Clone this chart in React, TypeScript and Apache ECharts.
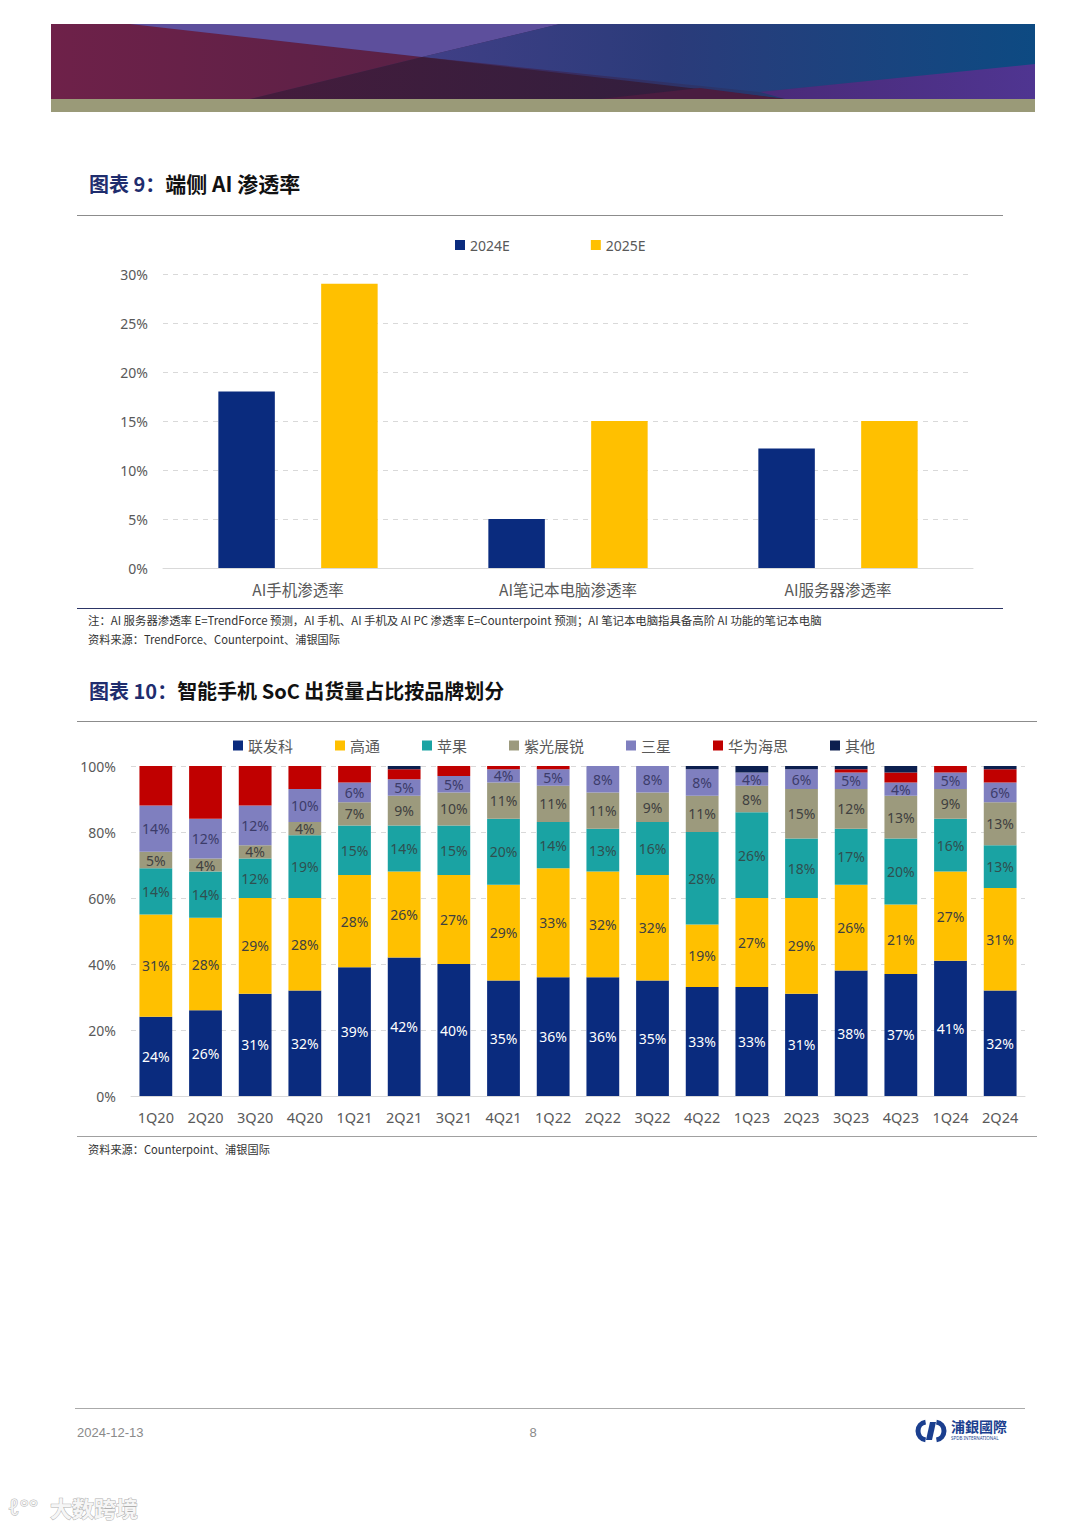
import React, { useEffect, useRef } from "react";
import * as echarts from "echarts";

// ---------- Chart 9 data ----------
const aiCategories = ["AI手机渗透率", "AI笔记本电脑渗透率", "AI服务器渗透率"];
const ai2024E = [18, 5, 12.2];
const ai2025E = [29, 15, 15];

// ---------- Chart 10 data ----------
const socQuarters = [
  "1Q20", "2Q20", "3Q20", "4Q20", "1Q21", "2Q21", "3Q21", "4Q21", "1Q22",
  "2Q22", "3Q22", "4Q22", "1Q23", "2Q23", "3Q23", "4Q23", "1Q24", "2Q24",
];
const mediatek = [24, 26, 31, 32, 39, 42, 40, 35, 36, 36, 35, 33, 33, 31, 38, 37, 41, 32];
const qualcomm = [31, 28, 29, 28, 28, 26, 27, 29, 33, 32, 32, 19, 27, 29, 26, 21, 27, 31];
const apple = [14, 14, 12, 19, 15, 14, 15, 20, 14, 13, 16, 28, 26, 18, 17, 20, 16, 13];
const unisoc = [5, 4, 4, 4, 7, 9, 10, 11, 11, 11, 9, 11, 8, 15, 12, 13, 9, 13];
const samsung = [14, 12, 12, 10, 6, 5, 5, 4, 5, 8, 8, 8, 4, 6, 5, 4, 5, 6];
const hisilicon = [12, 16, 12, 7, 5, 3, 3, 1, 1, 0, 0, 0, 0, 0, 1, 3, 2, 4];
const others = [0, 0, 0, 0, 0, 1, 0, 0, 0, 0, 0, 1, 2, 1, 1, 2, 0, 1];

const NAVY = "#0a2b7e";
const YELLOW = "#ffc000";
const TEAL = "#1aa3a3";
const OLIVE = "#9c9a7d";
const PURPLE = "#7f7fbf";
const RED = "#c00000";
const DARK = "#0c1f4f";

const CJK = "'Noto Sans CJK SC', 'Noto Sans', sans-serif";
const LAT = "'Noto Sans', 'Open Sans', sans-serif";

export default function App() {
  const ref = useRef<HTMLDivElement>(null);

  useEffect(() => {
    if (!ref.current) return;
    const chart = echarts.init(ref.current, undefined, { renderer: "svg" });

    const lbl = (color: string) => ({
      show: true,
      position: "inside" as const,
      formatter: "{c}%",
      color,
      fontSize: 14,
      fontFamily: LAT,
    });

    const socSeries = [
      { name: "联发科", data: mediatek, color: NAVY, label: lbl("#ffffff") },
      { name: "高通", data: qualcomm, color: YELLOW, label: lbl("#404040") },
      { name: "苹果", data: apple, color: TEAL, label: lbl("#2f5050") },
      { name: "紫光展锐", data: unisoc, color: OLIVE, label: lbl("#404040") },
      { name: "三星", data: samsung, color: PURPLE, label: lbl("#3c3c6a") },
      { name: "华为海思", data: hisilicon, color: RED, label: { show: false } },
      { name: "其他", data: others, color: DARK, label: { show: false } },
    ].map((s) => ({
      type: "bar",
      name: s.name,
      stack: "soc",
      xAxisIndex: 1,
      yAxisIndex: 1,
      barCategoryGap: "34%",
      data: s.data,
      itemStyle: { color: s.color },
      label: s.label,
    }));

    const line = (x1: number, y1: number, x2: number, y2: number, stroke: string, w = 1) => ({
      type: "line",
      shape: { x1, y1, x2, y2 },
      style: { stroke, lineWidth: w },
      silent: true,
    });

    const text = (x: number, y: number, t: string, font: string, fill: string, align = "left") => ({
      type: "text",
      x,
      y,
      style: { text: t, font, fill, textAlign: align, textVerticalAlign: "middle" },
      silent: true,
    });

    const graphics: any[] = [
      // banner base
      {
        type: "rect",
        shape: { x: 51, y: 24, width: 984, height: 75 },
        style: {
          fill: new echarts.graphic.LinearGradient(0, 0, 1, 0, [
            { offset: 0, color: "#6d2149" },
            { offset: 0.5, color: "#3a2a5e" },
            { offset: 1, color: "#0e4a82" },
          ]),
        },
      },
      // left maroon
      {
        type: "polygon",
        shape: { points: [[51, 24], [130, 24], [422, 57], [250, 99], [51, 99]] },
        style: {
          fill: new echarts.graphic.LinearGradient(0, 0, 1, 0, [
            { offset: 0, color: "#6e2149" },
            { offset: 1, color: "#5a2146" },
          ]),
        },
      },
      // upper light purple triangle
      {
        type: "polygon",
        shape: { points: [[130, 24], [560, 24], [422, 57]] },
        style: { fill: "#5d4f9c" },
      },
      // right blue
      {
        type: "polygon",
        shape: { points: [[560, 24], [1035, 24], [1035, 64], [760, 92], [422, 57]] },
        style: {
          fill: new echarts.graphic.LinearGradient(0, 0, 1, 0, [
            { offset: 0, color: "#403f86" },
            { offset: 0.4, color: "#2b3b7a" },
            { offset: 1, color: "#0d4a82" },
          ]),
        },
      },
      // dark bottom middle
      {
        type: "polygon",
        shape: { points: [[250, 99], [422, 57], [785, 99]] },
        style: {
          fill: new echarts.graphic.LinearGradient(0, 0, 1, 0, [
            { offset: 0, color: "#441c3c" },
            { offset: 1, color: "#2e1f3e" },
          ]),
        },
      },
      // bottom right purple
      {
        type: "polygon",
        shape: { points: [[760, 92], [1035, 64], [1035, 99], [785, 99]] },
        style: {
          fill: new echarts.graphic.LinearGradient(0, 0, 1, 0, [
            { offset: 0, color: "#4a2a78" },
            { offset: 1, color: "#4f3591" },
          ]),
        },
      },
      {
        type: "polygon",
        shape: { points: [[600, 99], [700, 88], [785, 99]] },
        style: { fill: "#4a1d40" },
      },
      // olive stripe
      {
        type: "rect",
        shape: { x: 51, y: 99, width: 984, height: 13 },
        style: { fill: "#9a9a78" },
      },

      // Title 9
      {
        type: "text",
        x: 89,
        y: 183,
        style: {
          text: "{a|图表 9：}{b|端侧 AI 渗透率}",
          textVerticalAlign: "middle",
          rich: {
            a: { font: `bold 20px ${CJK}`, fill: "#1f2d6e" },
            b: { font: `bold 21px ${CJK}`, fill: "#111111" },
          },
        },
      },
      line(77, 215.5, 1003, 215.5, "#8c8c8c", 1),
      line(77, 608.5, 1003, 608.5, "#2c3566", 1.2),
      text(
        88,
        620,
        "注：AI 服务器渗透率 E=TrendForce 预测，AI 手机、AI 手机及 AI PC 渗透率 E=Counterpoint 预测；AI 笔记本电脑指具备高阶 AI 功能的笔记本电脑",
        `11.4px ${CJK}`,
        "#333333"
      ),
      text(88, 639, "资料来源：TrendForce、Counterpoint、浦银国际", `11.2px ${CJK}`, "#333333"),

      // Title 10
      {
        type: "text",
        x: 89,
        y: 690,
        style: {
          text: "{a|图表 10：}{b|智能手机 SoC 出货量占比按品牌划分}",
          textVerticalAlign: "middle",
          rich: {
            a: { font: `bold 20px ${CJK}`, fill: "#1f2d6e" },
            b: { font: `bold 20px ${CJK}`, fill: "#111111" },
          },
        },
      },
      line(77, 721.5, 1037, 721.5, "#8c8c8c", 1),
      line(77, 1136.5, 1037, 1136.5, "#a0a0a0", 1),
      text(88, 1149, "资料来源：Counterpoint、浦银国际", `11.2px ${CJK}`, "#333333"),

      // footer
      line(75, 1408.5, 1025, 1408.5, "#aaaaaa", 1),
      text(77, 1432, "2024-12-13", `13px 'Liberation Sans', Arial, sans-serif`, "#8a8a8a"),
      text(533, 1432, "8", `13px 'Liberation Sans', Arial, sans-serif`, "#8a8a8a", "center"),
      // logo
      {
        type: "arc",
        shape: { cx: 927, cy: 1431, r: 9, startAngle: Math.PI * 0.55, endAngle: Math.PI * 1.45 },
        style: { stroke: "#1b3f8f", lineWidth: 5, fill: null },
      },
      {
        type: "arc",
        shape: { cx: 935, cy: 1431, r: 9, startAngle: -Math.PI * 0.45, endAngle: Math.PI * 0.45 },
        style: { stroke: "#1b3f8f", lineWidth: 5, fill: null },
      },
      {
        type: "polygon",
        shape: { points: [[926, 1440], [930, 1422], [936, 1422], [932, 1440]] },
        style: { fill: "#1b3f8f" },
      },
      text(951, 1426, "浦銀國際", `bold 14px ${CJK}`, "#1b3f8f"),
      text(951, 1438, "SPDB INTERNATIONAL", `4.5px ${LAT}`, "#1b3f8f"),

      // watermark
      {
        type: "text",
        x: 8,
        y: 1506,
        style: {
          text: "ℓ°°",
          font: `22px ${LAT}`,
          fill: "#f4f4f4",
          stroke: "#b8b8b8",
          lineWidth: 1,
          textVerticalAlign: "middle",
        },
      },
      {
        type: "text",
        x: 50,
        y: 1507,
        style: {
          text: "大数跨境",
          font: `bold 22px ${CJK}`,
          fill: "#f6f6f6",
          stroke: "#b0b0b0",
          lineWidth: 1,
          textVerticalAlign: "middle",
        },
      },
    ];

    const axisLabelCommon = { color: "#595959", fontSize: 14, fontFamily: CJK };

    chart.setOption({
      animation: false,
      backgroundColor: "#ffffff",
      textStyle: { fontFamily: CJK },
      grid: [
        { left: 163, top: 274, width: 810, height: 294, containLabel: false },
        { left: 131, top: 766, width: 894, height: 330, containLabel: false },
      ],
      legend: [
        {
          data: ["2024E", "2025E"],
          left: 450,
          top: 233,
          icon: "rect",
          itemWidth: 10,
          itemHeight: 10,
          itemGap: 81,
          textStyle: { color: "#595959", fontSize: 14, fontFamily: LAT },
        },
        {
          data: ["联发科", "高通", "苹果", "紫光展锐", "三星", "华为海思", "其他"],
          left: 228,
          top: 733,
          icon: "rect",
          itemWidth: 10,
          itemHeight: 10,
          itemGap: 42,
          textStyle: { color: "#595959", fontSize: 15, fontFamily: CJK },
        },
      ],
      xAxis: [
        {
          type: "category",
          gridIndex: 0,
          data: aiCategories,
          axisTick: { show: false },
          axisLine: { lineStyle: { color: "#d9d9d9" } },
          axisLabel: { ...axisLabelCommon, fontSize: 15.5, margin: 13 },
        },
        {
          type: "category",
          gridIndex: 1,
          data: socQuarters,
          axisTick: { show: false },
          axisLine: { lineStyle: { color: "#d9d9d9" } },
          axisLabel: { ...axisLabelCommon, fontFamily: LAT, fontSize: 14.5, margin: 13 },
        },
      ],
      yAxis: [
        {
          type: "value",
          gridIndex: 0,
          min: 0,
          max: 30,
          interval: 5,
          axisLine: { show: false },
          axisTick: { show: false },
          splitLine: { lineStyle: { color: "#d9d9d9", type: [5, 5] } },
          axisLabel: { ...axisLabelCommon, fontFamily: LAT, formatter: "{value}%", margin: 15 },
        },
        {
          type: "value",
          gridIndex: 1,
          min: 0,
          max: 100,
          interval: 20,
          axisLine: { show: false },
          axisTick: { show: false },
          splitLine: { lineStyle: { color: "#d9d9d9", type: [5, 5] } },
          axisLabel: { ...axisLabelCommon, fontFamily: LAT, formatter: "{value}%", margin: 15 },
        },
      ],
      series: [
        {
          type: "bar",
          name: "2024E",
          xAxisIndex: 0,
          yAxisIndex: 0,
          data: ai2024E,
          barGap: "82%",
          barCategoryGap: "41%",
          itemStyle: { color: NAVY },
        },
        {
          type: "bar",
          name: "2025E",
          xAxisIndex: 0,
          yAxisIndex: 0,
          data: ai2025E,
          barGap: "82%",
          barCategoryGap: "41%",
          itemStyle: { color: YELLOW },
        },
        ...socSeries,
      ],
      graphic: graphics,
    });

    return () => chart.dispose();
  }, []);

  return (
    <div
      ref={ref}
      style={{ position: "absolute", left: 0, top: 0, width: 1080, height: 1527, background: "#fff" }}
    />
  );
}
